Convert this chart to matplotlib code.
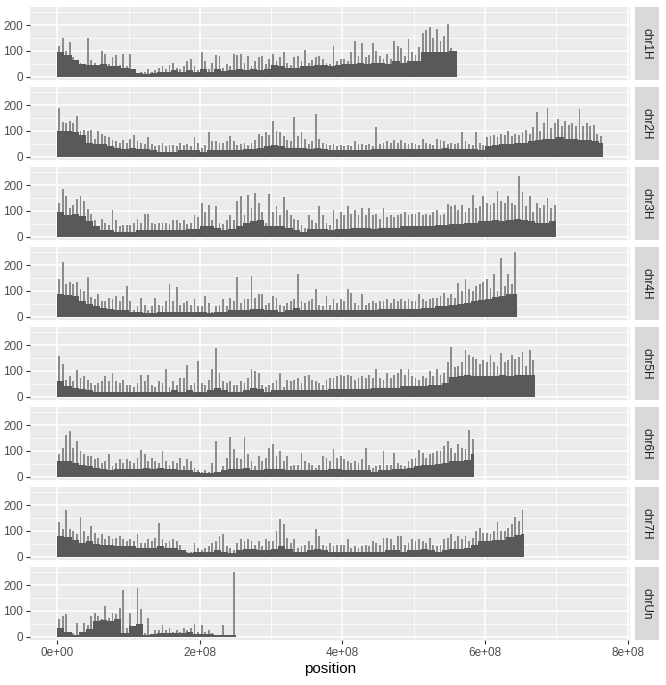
import matplotlib
matplotlib.use("Agg")
import matplotlib.pyplot as plt
import numpy as np

plt.rcParams['font.family'] = ['Liberation Sans', 'DejaVu Sans']

chroms = ["chr1H", "chr2H", "chr3H", "chr4H", "chr5H", "chr6H", "chr7H", "chrUn"]
peak_bin = 5e6    # bin width of the spike series
body_bin = 1e7    # bin width of the dense base series

# spike heights (5 Mb bins) and base heights (10 Mb bins)
chr1H_peaks = [120, 150, 100, 135, 75, 60, 55, 50, 150, 65,
               55, 45, 100, 90, 50, 75, 85, 45, 90, 40,
               90, 25, 15, 18, 20, 30, 20, 25, 35, 40,
               30, 45, 55, 35, 30, 40, 60, 70, 40, 25,
               95, 60, 30, 55, 85, 80, 35, 50, 40, 90,
               85, 90, 55, 80, 40, 60, 75, 80, 50, 70,
               90, 60, 75, 95, 55, 45, 75, 80, 60, 105,
               55, 65, 75, 80, 70, 55, 50, 120, 60, 70,
               70, 60, 95, 140, 80, 130, 75, 85, 130, 100,
               80, 70, 90, 70, 140, 120, 110, 80, 145, 95,
               85, 115, 170, 180, 195, 150, 185, 140, 160, 205,
               110, 100]
chr1H_body = [95, 85, 65, 50, 45, 45, 50, 40, 40, 35,
              30, 15, 12, 15, 18, 18, 25, 20, 25, 18,
              30, 20, 30, 22, 25, 30, 25, 30, 25, 30,
              45, 40, 35, 35, 40, 40, 45, 45, 40, 45,
              50, 50, 55, 50, 55, 55, 50, 60, 55, 60,
              60, 95, 95, 95, 95, 100]

chr2H_peaks = [190, 135, 130, 140, 130, 160, 100, 105, 100, 105,
               70, 100, 90, 80, 75, 65, 60, 55, 65, 55,
               70, 85, 60, 55, 50, 75, 50, 40, 45, 55,
               40, 45, 45, 40, 55, 45, 50, 40, 75, 55,
               35, 45, 95, 60, 60, 55, 55, 60, 80, 60,
               45, 50, 55, 45, 55, 65, 90, 80, 95, 85,
               140, 100, 95, 80, 65, 60, 155, 80, 95, 70,
               50, 60, 165, 70, 55, 50, 45, 50, 40, 45,
               40, 45, 40, 60, 50, 50, 45, 50, 40, 115,
               50, 55, 60, 55, 65, 55, 65, 55, 50, 55,
               50, 45, 70, 55, 50, 45, 70, 65, 60, 50,
               55, 50, 55, 95, 60, 50, 45, 95, 55, 45,
               75, 80, 85, 75, 90, 85, 100, 80, 90, 85,
               95, 105, 90, 115, 175, 100, 130, 190, 110, 130,
               145, 120, 140, 125, 130, 120, 185, 120, 130, 120,
               125, 90, 80]
chr2H_body = [100, 100, 95, 85, 55, 50, 50, 40, 35, 30,
              35, 30, 30, 25, 20, 20, 20, 25, 25, 25,
              20, 25, 25, 25, 25, 25, 30, 30, 35, 40,
              45, 40, 35, 35, 35, 30, 35, 30, 25, 25,
              25, 25, 25, 25, 30, 30, 30, 30, 30, 30,
              30, 30, 30, 30, 35, 30, 30, 30, 30, 25,
              40, 45, 50, 50, 55, 55, 60, 65, 70, 70,
              75, 70, 70, 65, 65, 60, 55]

chr3H_peaks = [130, 185, 158, 110, 125, 145, 158, 138, 108, 90,
               65, 40, 70, 55, 45, 105, 65, 40, 45, 45,
               45, 55, 70, 55, 90, 90, 55, 50, 55, 55,
               55, 50, 65, 65, 55, 65, 50, 55, 85, 75,
               130, 95, 125, 65, 118, 55, 50, 65, 85, 65,
               138, 158, 85, 162, 110, 170, 130, 95, 55, 165,
               95, 118, 85, 155, 105, 85, 70, 65, 45, 35,
               85, 65, 55, 118, 85, 55, 45, 105, 70, 95,
               85, 118, 90, 105, 85, 113, 85, 110, 85, 90,
               70, 113, 75, 85, 75, 85, 90, 95, 85, 90,
               90, 95, 85, 90, 85, 95, 105, 85, 90, 127,
               118, 125, 105, 125, 95, 110, 162, 110, 118, 158,
               130, 125, 130, 178, 138, 130, 158, 130, 125, 235,
               172, 118, 158, 95, 130, 110, 125, 150, 110, 125]
chr3H_body = [95, 85, 90, 80, 60, 40, 25, 25, 20, 20,
              20, 25, 25, 25, 25, 25, 25, 25, 30, 30,
              40, 40, 35, 25, 30, 40, 55, 60, 65, 40,
              40, 40, 35, 25, 20, 30, 30, 30, 25, 30,
              30, 35, 35, 35, 30, 35, 35, 35, 40, 40,
              40, 40, 40, 45, 45, 50, 50, 55, 55, 60,
              60, 65, 60, 65, 70, 65, 60, 55, 55, 60]

chr4H_peaks = [147, 213, 127, 133, 127, 133, 107, 100, 153, 75,
               67, 87, 60, 60, 73, 67, 80, 60, 80, 120,
               60, 27, 40, 73, 47, 27, 40, 73, 47, 40,
               60, 127, 60, 116, 47, 53, 60, 47, 67, 40,
               40, 80, 53, 20, 40, 47, 67, 40, 73, 60,
               156, 53, 67, 67, 160, 73, 87, 89, 47, 53,
               80, 73, 47, 40, 53, 60, 67, 167, 60, 53,
               60, 67, 107, 47, 40, 80, 47, 67, 53, 67,
               60, 107, 93, 53, 47, 87, 47, 53, 60, 53,
               60, 60, 67, 53, 67, 60, 67, 60, 67, 60,
               60, 89, 67, 60, 67, 73, 73, 80, 93, 73,
               87, 73, 131, 100, 147, 107, 100, 120, 127, 133,
               147, 113, 167, 100, 227, 120, 167, 127, 250]
chr4H_body = [90, 85, 80, 60, 50, 40, 35, 30, 25, 25,
              20, 20, 15, 15, 20, 20, 20, 20, 20, 20,
              20, 15, 20, 20, 25, 25, 25, 30, 30, 25,
              25, 20, 25, 35, 25, 25, 25, 25, 25, 25,
              25, 25, 25, 25, 25, 30, 30, 30, 30, 30,
              30, 35, 35, 40, 40, 45, 50, 55, 60, 65,
              70, 75, 80, 90, 90]

chr5H_peaks = [157, 127, 66, 80, 60, 104, 73, 80, 66, 53,
               46, 53, 60, 80, 60, 93, 60, 53, 66, 46,
               46, 39, 53, 86, 60, 86, 46, 39, 60, 53,
               107, 39, 60, 46, 73, 73, 123, 46, 53, 140,
               53, 46, 66, 107, 188, 93, 60, 53, 60, 46,
               46, 60, 53, 73, 107, 100, 93, 46, 39, 46,
               53, 66, 93, 39, 66, 60, 66, 73, 53, 80,
               86, 66, 60, 53, 46, 66, 73, 73, 80, 86,
               80, 86, 80, 66, 73, 80, 73, 86, 73, 109,
               73, 66, 93, 73, 86, 93, 107, 86, 107, 80,
               73, 66, 80, 73, 100, 80, 107, 86, 93, 134,
               195, 114, 120, 134, 181, 161, 154, 147, 127, 141,
               134, 161, 134, 120, 168, 134, 141, 161, 147, 154,
               174, 120, 181, 141]
chr5H_body = [60, 40, 35, 30, 25, 20, 20, 20, 20, 20,
              20, 20, 20, 20, 20, 20, 25, 20, 25, 20,
              20, 25, 35, 25, 20, 20, 25, 35, 30, 20,
              25, 25, 25, 25, 25, 25, 25, 25, 30, 30,
              30, 30, 30, 30, 35, 35, 35, 35, 40, 40,
              40, 40, 45, 45, 55, 75, 80, 85, 80, 80,
              80, 80, 85, 80, 85, 85, 85]

chr6H_peaks = [87, 113, 164, 177, 113, 140, 100, 87, 80, 80,
               67, 73, 53, 60, 87, 40, 53, 67, 53, 67,
               60, 53, 73, 103, 87, 60, 73, 60, 53, 100,
               60, 47, 60, 53, 73, 40, 67, 60, 33, 27,
               20, 27, 20, 53, 140, 20, 40, 73, 156, 107,
               73, 67, 153, 87, 60, 40, 80, 60, 73, 113,
               127, 80, 100, 60, 80, 40, 47, 47, 93, 60,
               53, 47, 33, 47, 80, 73, 60, 107, 73, 80,
               67, 60, 53, 60, 53, 67, 111, 47, 33, 40,
               47, 100, 47, 47, 93, 53, 47, 40, 60, 67,
               73, 103, 93, 73, 87, 93, 100, 100, 120, 140,
               113, 93, 127, 113, 107, 183, 147]
chr6H_body = [60, 60, 55, 45, 40, 35, 30, 25, 30, 30,
              30, 30, 35, 30, 35, 30, 30, 25, 25, 20,
              15, 15, 20, 25, 30, 30, 35, 25, 25, 30,
              30, 30, 25, 25, 25, 25, 25, 25, 30, 30,
              25, 25, 25, 25, 20, 25, 25, 30, 30, 35,
              40, 45, 45, 50, 55, 60, 60, 65, 90]

chr7H_peaks = [133, 107, 183, 107, 100, 87, 153, 100, 80, 120,
               93, 73, 87, 67, 80, 67, 73, 80, 67, 60,
               67, 60, 87, 53, 53, 67, 60, 73, 129, 67,
               53, 60, 67, 60, 47, 27, 20, 20, 53, 33,
               27, 33, 40, 53, 60, 80, 87, 40, 33, 27,
               53, 67, 60, 67, 60, 47, 60, 40, 67, 60,
               60, 100, 147, 127, 73, 53, 67, 33, 40, 47,
               60, 47, 107, 80, 47, 40, 53, 40, 47, 47,
               47, 67, 33, 40, 33, 40, 47, 40, 60, 53,
               47, 73, 73, 67, 47, 80, 80, 47, 53, 67,
               60, 67, 60, 53, 73, 47, 40, 47, 67, 73,
               87, 60, 80, 67, 80, 60, 73, 100, 113, 93,
               93, 87, 100, 133, 100, 100, 113, 127, 153, 140, 180]
chr7H_body = [80, 75, 65, 55, 60, 50, 45, 45, 40, 40,
              40, 35, 35, 35, 40, 35, 35, 25, 15, 20,
              20, 20, 25, 20, 15, 25, 30, 30, 25, 25,
              30, 40, 30, 20, 20, 25, 30, 25, 20, 20,
              20, 20, 20, 20, 20, 20, 25, 25, 20, 25,
              25, 30, 25, 20, 25, 30, 30, 35, 45, 60,
              60, 65, 65, 75, 85, 90]

chrUn_peaks = [67, 80, 87, 20, 13, 53, 13, 53, 47, 80,
               93, 80, 67, 120, 73, 93, 87, 113, 180, 33,
               93, 20, 190, 107, 13, 73, 7, 27, 27, 47,
               27, 33, 20, 27, 20, 33, 27, 33, 51, 20,
               47, 20, 27, 13, 7, 7, 47, 7, 7, 250]
chrUn_body = [35, 20, 5, 20, 30, 60, 65, 60, 70, 15,
              40, 50, 5, 10, 15, 15, 15, 15, 20, 10,
              10, 10, 5, 5, 5]

peaks_data = dict(zip(chroms, [chr1H_peaks, chr2H_peaks, chr3H_peaks, chr4H_peaks,
                               chr5H_peaks, chr6H_peaks, chr7H_peaks, chrUn_peaks]))
body_data = dict(zip(chroms, [chr1H_body, chr2H_body, chr3H_body, chr4H_body,
                              chr5H_body, chr6H_body, chr7H_body, chrUn_body]))

W, H = 666, 685
fig = plt.figure(figsize=(W / 100, H / 100), dpi=100)

bar_col = '#595959'
spike_col = '#8C8C8C'
left, right = 30, 630
strip_l, strip_r = 635, 659
top0, pitch, ph = 7, 80, 73
xlim = (-0.3825e8, 8.0325e8)
ylim = (-13, 271)

for i, name in enumerate(chroms):
    top = top0 + i * pitch
    ax = fig.add_axes([left / W, 1 - (top + ph) / H, (right - left) / W, ph / H])
    ax.set_facecolor('#EBEBEB')
    for s in ax.spines.values():
        s.set_visible(False)

    peaks = np.array(peaks_data[name], dtype=float)
    body = np.array(body_data[name], dtype=float)
    end = len(peaks) * peak_bin
    xp = np.arange(len(peaks)) * peak_bin + peak_bin / 2
    xb = np.arange(len(body)) * body_bin
    wb = np.minimum(body_bin, end - xb)
    ax.bar(xp, peaks, width=2.6e6, color=spike_col, linewidth=0, zorder=3)
    ax.bar(xb, body, width=wb, align='edge', color=bar_col, linewidth=0, zorder=4)

    ax.set_xlim(*xlim)
    ax.set_ylim(*ylim)
    ax.set_xticks([0, 2e8, 4e8, 6e8, 8e8])
    ax.set_xticks([1e8, 3e8, 5e8, 7e8], minor=True)
    ax.set_yticks([0, 100, 200])
    ax.set_yticks([50, 150, 250], minor=True)
    ax.grid(which='major', color='white', linewidth=1.1, zorder=1)
    ax.grid(which='minor', color='white', linewidth=0.55, zorder=1)
    ax.set_axisbelow(True)
    ax.tick_params(axis='y', which='major', length=3, width=0.8, color='#333333',
                   labelsize=8.5, labelcolor='#4D4D4D', pad=2)
    ax.tick_params(which='minor', length=0)
    if i == len(chroms) - 1:
        ax.tick_params(axis='x', which='major', length=3, width=0.8, color='#333333',
                       labelsize=8.5, labelcolor='#4D4D4D', pad=2)
        ax.set_xticklabels(['0e+00', '2e+08', '4e+08', '6e+08', '8e+08'])
        ax.set_xlabel('position', fontsize=11, color='black', labelpad=2)
    else:
        ax.tick_params(axis='x', which='major', length=0, labelbottom=False)

    sax = fig.add_axes([strip_l / W, 1 - (top + ph) / H, (strip_r - strip_l) / W, ph / H])
    sax.set_facecolor('#D9D9D9')
    sax.set_xticks([])
    sax.set_yticks([])
    for s in sax.spines.values():
        s.set_visible(False)
    sax.text(0.5, 0.5, name, rotation=270, ha='center', va='center',
             fontsize=8.5, color='#1A1A1A', transform=sax.transAxes)

fig.savefig('out.png', dpi=100)
